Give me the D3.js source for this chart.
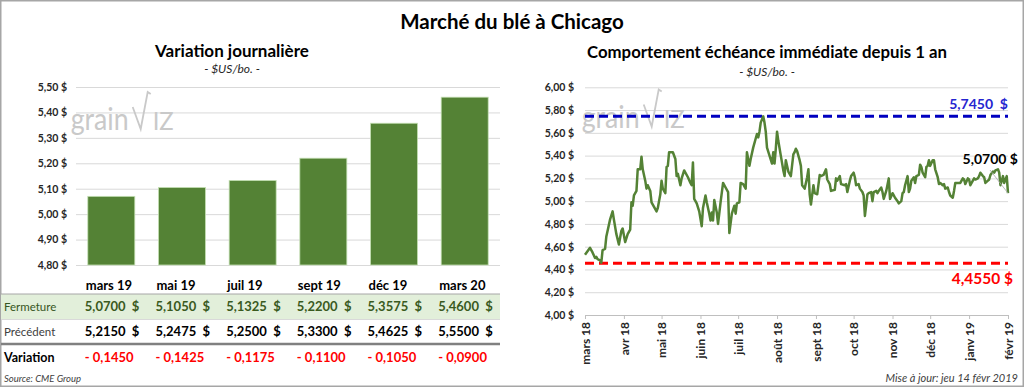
<!DOCTYPE html>
<html>
<head>
<meta charset="utf-8">
<script src="https://cdn.jsdelivr.net/npm/d3@7"></script>
<style>
body { margin: 0; background: #fff; }
svg { display: block; font-family: Lato, "Open Sans", sans-serif; }
</style>
</head>
<body>
<svg width="1024" height="387"></svg>
<script>
// ---- data ----
var contracts = ["mars 19", "mai 19", "juil 19", "sept 19", "déc 19", "mars 20"];
var closing = [5.07, 5.105, 5.1325, 5.22, 5.3575, 5.46];
var previous = [5.215, 5.2475, 5.25, 5.33, 5.4625, 5.55];
var change = [-0.145, -0.1425, -0.1175, -0.11, -0.105, -0.09];
var barTicks = [4.8, 4.9, 5.0, 5.1, 5.2, 5.3, 5.4, 5.5];

var lineTicks = [4.0, 4.2, 4.4, 4.6, 4.8, 5.0, 5.2, 5.4, 5.6, 5.8, 6.0];
var monthTicks = ["2018-03-14", "2018-04-14", "2018-05-14", "2018-06-14", "2018-07-14", "2018-08-14",
  "2018-09-14", "2018-10-14", "2018-11-14", "2018-12-14", "2019-01-14", "2019-02-14"];
var yearHigh = 5.745, yearLow = 4.455;

var priceDates = [
  "2018-03-14","2018-03-18","2018-03-20","2018-03-22","2018-03-23","2018-03-24","2018-03-26","2018-03-27","2018-03-28","2018-03-30",
  "2018-03-31","2018-04-03","2018-04-05","2018-04-06","2018-04-08","2018-04-10","2018-04-12","2018-04-13","2018-04-15","2018-04-17",
  "2018-04-19","2018-04-20","2018-04-21","2018-04-22","2018-04-24","2018-04-25","2018-04-27","2018-04-28","2018-04-29","2018-05-01",
  "2018-05-02","2018-05-03","2018-05-05","2018-05-06","2018-05-09","2018-05-10","2018-05-11","2018-05-13","2018-05-14","2018-05-15",
  "2018-05-17","2018-05-18","2018-05-19","2018-05-20","2018-05-23","2018-05-25","2018-05-26","2018-05-27","2018-05-29","2018-05-30",
  "2018-06-01","2018-06-04","2018-06-06","2018-06-07","2018-06-08","2018-06-09","2018-06-11","2018-06-13","2018-06-15","2018-06-16",
  "2018-06-18","2018-06-19","2018-06-21","2018-06-22","2018-06-23","2018-06-24","2018-06-25","2018-06-27","2018-06-28","2018-06-30",
  "2018-07-02","2018-07-04","2018-07-06","2018-07-07","2018-07-09","2018-07-11","2018-07-12","2018-07-13","2018-07-15","2018-07-16",
  "2018-07-18","2018-07-20","2018-07-21","2018-07-23","2018-07-24","2018-07-26","2018-07-28","2018-07-29","2018-07-30","2018-07-31",
  "2018-08-01","2018-08-03","2018-08-04","2018-08-05","2018-08-06","2018-08-08","2018-08-10","2018-08-11","2018-08-12","2018-08-13",
  "2018-08-14","2018-08-15","2018-08-17","2018-08-19","2018-08-20","2018-08-21","2018-08-23","2018-08-24","2018-08-25","2018-08-27",
  "2018-08-28","2018-08-29","2018-08-30","2018-09-01","2018-09-02","2018-09-03","2018-09-05","2018-09-07","2018-09-08","2018-09-09",
  "2018-09-10","2018-09-12","2018-09-13","2018-09-15","2018-09-17","2018-09-18","2018-09-20","2018-09-22","2018-09-23","2018-09-25",
  "2018-09-26","2018-09-29","2018-09-30","2018-10-01","2018-10-03","2018-10-04","2018-10-07","2018-10-08","2018-10-09","2018-10-11",
  "2018-10-12","2018-10-14","2018-10-15","2018-10-16","2018-10-18","2018-10-19","2018-10-21","2018-10-22","2018-10-23","2018-10-25",
  "2018-10-26","2018-10-28","2018-10-29","2018-10-30","2018-11-01","2018-11-02","2018-11-03","2018-11-05","2018-11-06","2018-11-07",
  "2018-11-09","2018-11-11","2018-11-12","2018-11-14","2018-11-15","2018-11-16","2018-11-18","2018-11-19","2018-11-21","2018-11-22",
  "2018-11-23","2018-11-24","2018-11-26","2018-11-27","2018-11-28","2018-11-29","2018-12-01","2018-12-02","2018-12-03","2018-12-05",
  "2018-12-06","2018-12-07","2018-12-08","2018-12-10","2018-12-11","2018-12-12","2018-12-13","2018-12-14","2018-12-16","2018-12-17",
  "2018-12-18","2018-12-20","2018-12-21","2018-12-22","2018-12-24","2018-12-25","2018-12-26","2018-12-28","2018-12-29","2018-12-30",
  "2019-01-01","2019-01-02","2019-01-03","2019-01-05","2019-01-06","2019-01-07","2019-01-09","2019-01-10","2019-01-11","2019-01-13",
  "2019-01-14","2019-01-15","2019-01-17","2019-01-18","2019-01-19","2019-01-21","2019-01-22","2019-01-23","2019-01-25","2019-01-26",
  "2019-01-27","2019-01-29","2019-01-30","2019-01-31","2019-02-02","2019-02-03","2019-02-04","2019-02-06","2019-02-07","2019-02-08",
  "2019-02-10","2019-02-11","2019-02-12","2019-02-13","2019-02-14"
];
var priceValues = [
  4.53,4.59,4.55,4.50,4.51,4.49,4.48,4.46,4.57,4.58,
  4.69,4.84,4.91,4.84,4.71,4.62,4.74,4.76,4.64,4.71,
  4.75,4.99,4.96,5.05,5.09,5.28,5.28,5.39,5.28,5.18,
  5.11,5.14,5.09,4.99,4.93,4.91,4.94,5.06,5.18,5.11,
  5.07,5.30,5.31,5.43,5.43,5.37,5.22,5.24,5.14,5.20,
  5.27,5.21,5.16,5.14,5.34,5.02,4.98,4.91,4.78,4.94,
  5.05,4.99,4.89,4.83,4.90,4.83,5.01,4.90,4.80,4.99,
  5.16,5.12,5.08,4.72,4.89,4.96,4.89,4.98,4.99,5.16,
  5.15,5.11,5.43,5.31,5.37,5.47,5.55,5.59,5.56,5.61,
  5.69,5.745,5.69,5.61,5.47,5.40,5.33,5.43,5.33,5.46,
  5.61,5.53,5.40,5.27,5.22,5.36,5.26,5.24,5.22,5.41,
  5.43,5.46,5.44,5.36,5.31,5.14,5.11,5.21,5.28,5.06,
  4.97,5.14,5.07,5.06,5.23,5.22,5.23,5.28,5.19,5.15,
  5.09,5.10,5.20,5.18,5.22,5.15,5.14,5.15,5.08,5.18,
  5.22,5.25,5.21,5.14,5.15,5.11,5.08,5.05,4.87,5.06,
  5.07,5.08,5.00,5.08,5.09,5.07,5.09,5.12,5.08,5.02,
  5.09,5.20,5.02,5.07,5.05,5.03,5.00,4.98,5.00,5.07,
  5.08,5.14,5.22,5.08,5.11,5.18,5.21,5.16,5.22,5.23,
  5.32,5.30,5.25,5.21,5.30,5.31,5.36,5.31,5.36,5.36,
  5.28,5.21,5.15,5.16,5.14,5.15,5.11,5.12,5.08,5.05,
  5.03,5.09,5.16,5.16,5.16,5.16,5.20,5.19,5.15,5.20,
  5.19,5.14,5.18,5.20,5.19,5.20,5.22,5.25,5.22,5.21,
  5.16,5.18,5.19,5.23,5.26,5.25,5.27,5.28,5.25,5.14,
  5.22,5.16,5.19,5.22,5.07
];

// ---- setup ----
var svg = d3.select("svg");
var green = "#548235";

var fr = d3.formatLocale({ decimal: ",", thousands: " ", grouping: [3], currency: ["", " $"] });
var f2 = fr.format(".2f"),
  f4 = fr.format(".4f");
var frTime = d3.timeFormatLocale({
  dateTime: "%A %e %B %Y à %X", date: "%d/%m/%Y", time: "%H:%M:%S", periods: ["AM", "PM"],
  days: ["dimanche", "lundi", "mardi", "mercredi", "jeudi", "vendredi", "samedi"],
  shortDays: ["dim", "lun", "mar", "mer", "jeu", "ven", "sam"],
  months: ["janvier", "février", "mars", "avril", "mai", "juin", "juillet", "août", "septembre", "octobre", "novembre", "décembre"],
  shortMonths: ["janv", "févr", "mars", "avr", "mai", "juin", "juil", "août", "sept", "oct", "nov", "déc"]
});
var parse = d3.timeParse("%Y-%m-%d");

// frame
svg.append("rect")
  .attr("x", 0.75).attr("y", 0.75).attr("width", 1022.5).attr("height", 385.5)
  .attr("fill", "none").attr("stroke", "#a6a6a6").attr("stroke-width", 1.5);

svg.append("text")
  .attr("x", 512).attr("y", 29).attr("text-anchor", "middle")
  .style("font-size", "20.5px").style("font-weight", "bold").attr("fill", "#000")
  .text("Marché du blé à Chicago");

function watermark(x, y) {
  var g = svg.append("g").attr("transform", "translate(" + x + "," + y + ")").attr("fill", "#c9c9c9");
  g.append("text").attr("x", 0).attr("y", 0)
    .attr("textLength", 58).attr("lengthAdjust", "spacingAndGlyphs")
    .style("font-size", "31px").style("font-weight", "normal").text("grain");
  g.append("path").attr("d", "M62,-23 L70,-1 L77,-38 L80,-36")
    .attr("fill", "none").attr("stroke", "#c9c9c9").attr("stroke-width", 1.8);
  g.append("text").attr("x", 82).attr("y", 0)
    .attr("textLength", 21).attr("lengthAdjust", "spacingAndGlyphs")
    .style("font-size", "25px").style("font-weight", "normal").text("IZ");
}

// ---- left: bar chart ----
svg.append("text")
  .attr("x", 232).attr("y", 57).attr("text-anchor", "middle")
  .style("font-size", "17px").style("font-weight", "bold").text("Variation journalière");
svg.append("text")
  .attr("x", 232).attr("y", 73).attr("text-anchor", "middle")
  .style("font-size", "12px").style("font-style", "italic").attr("fill", "#262626")
  .text("- $US/bo. -");

var x1 = d3.scaleBand().domain(contracts).range([76, 500]).paddingInner(0.335).paddingOuter(0.167);
var y1 = d3.scaleLinear().domain([4.8, 5.5]).range([265, 87]);

var yAxis1 = svg.append("g")
  .attr("transform", "translate(76,0)")
  .call(d3.axisLeft(y1).tickValues(barTicks).tickSize(-424).tickPadding(9)
    .tickFormat(function (d) { return f2(d) + " $"; }));
yAxis1.select(".domain").remove();
yAxis1.selectAll("line").attr("stroke", "#d9d9d9");
yAxis1.selectAll("text").attr("fill", "#262626").style("font-size", "10.5px").style("font-weight", "bold")
  .style("font-family", "Lato, sans-serif");

watermark(70.7, 130);

svg.append("g")
  .selectAll("rect")
  .data(closing)
  .enter()
  .append("rect")
  .attr("x", function (d, i) { return x1(contracts[i]); })
  .attr("width", x1.bandwidth())
  .attr("y", function (d) { return y1(d); })
  .attr("height", function (d) { return y1(4.8) - y1(d); })
  .attr("fill", green)
  .attr("stroke", "#c5e0b4")
  .attr("stroke-width", 0.8);

// table under bars
svg.append("rect").attr("x", 1).attr("y", 294).attr("width", 499).attr("height", 25).attr("fill", "#e2efda");
svg.append("line").attr("x1", 1).attr("x2", 500).attr("y1", 294).attr("y2", 294).attr("stroke", "#a6a6a6").attr("stroke-width", 1);
svg.append("line").attr("x1", 1).attr("x2", 500).attr("y1", 319.5).attr("y2", 319.5).attr("stroke", "#d9d9d9").attr("stroke-width", 1);
svg.append("line").attr("x1", 1).attr("x2", 500).attr("y1", 344).attr("y2", 344).attr("stroke", "#808080").attr("stroke-width", 2.5);

svg.append("g")
  .selectAll("text")
  .data(contracts)
  .enter()
  .append("text")
  .attr("x", function (d) { return x1(d) - 2; })
  .attr("y", 290)
  .style("font-size", "13px").style("font-weight", "bold")
  .text(function (d) { return d; });

var rows = [
  { label: "Fermeture", y: 311, values: closing, color: "#3a5a1e", labelColor: "#375623", labelWeight: "normal" },
  { label: "Précédent", y: 336, values: previous, color: "#000", labelColor: "#404040", labelWeight: "normal" },
  { label: "Variation", y: 362, values: change, color: "#ff0000", labelColor: "#000", labelWeight: "bold" }
];
rows.forEach(function (r, k) {
  svg.append("text").attr("x", 4).attr("y", r.y)
    .style("font-size", k === 2 ? "12.5px" : "11.5px").style("font-weight", r.labelWeight)
    .attr("fill", r.labelColor).text(r.label);
  svg.append("g")
    .selectAll("text")
    .data(r.values)
    .enter()
    .append("text")
    .attr("x", function (d, i) { return x1(contracts[i]) - 3; })
    .attr("y", r.y)
    .attr("fill", r.color)
    .style("font-size", "13px").style("font-weight", "bold")
    .text(function (d) {
      return k === 2 ? "- " + f4(Math.abs(d)) : f4(d) + "\u00a0\u00a0$";
    });
});

svg.append("text").attr("x", 4).attr("y", 382)
  .style("font-size", "9.5px").style("font-style", "italic").attr("fill", "#404040")
  .text("Source: CME Group");

// ---- right: line chart ----
svg.append("text")
  .attr("x", 767).attr("y", 58).attr("text-anchor", "middle")
  .style("font-size", "16.8px").style("font-weight", "bold").text("Comportement échéance immédiate depuis 1 an");
svg.append("text")
  .attr("x", 767).attr("y", 76).attr("text-anchor", "middle")
  .style("font-size", "12px").style("font-style", "italic").attr("fill", "#262626")
  .text("- $US/bo. -");

var x2 = d3.scaleTime().domain([parse(monthTicks[0]), parse(monthTicks[monthTicks.length - 1])]).range([585, 1008]);
var y2 = d3.scaleLinear().domain([4, 6]).range([315, 87.3]);

var yAxis2 = svg.append("g")
  .attr("transform", "translate(585,0)")
  .call(d3.axisLeft(y2).tickValues(lineTicks).tickSize(-423).tickPadding(11)
    .tickFormat(function (d) { return f2(d) + " $"; }));
yAxis2.select(".domain").remove();
yAxis2.selectAll("line").attr("stroke", "#d9d9d9");
yAxis2.selectAll("text").attr("fill", "#262626").style("font-size", "10.5px").style("font-weight", "bold")
  .style("font-family", "Lato, sans-serif");

var xAxis2 = svg.append("g")
  .attr("transform", "translate(0,315)")
  .call(d3.axisBottom(x2).tickValues(monthTicks.map(parse)).tickSize(4)
    .tickFormat(frTime.format("%b %y")));
xAxis2.select(".domain").attr("stroke", "#bfbfbf");
xAxis2.selectAll("line").attr("stroke", "#bfbfbf");
xAxis2.selectAll("text")
  .attr("transform", "rotate(-90)")
  .attr("x", -7).attr("y", 0).attr("dy", "0.35em")
  .style("text-anchor", "end")
  .attr("fill", "#262626").style("font-size", "12px").style("font-weight", "bold")
  .style("font-family", "Lato, sans-serif");

watermark(581.7, 127.5);

// high / low reference lines
svg.append("line")
  .attr("x1", 585).attr("x2", 1008).attr("y1", y2(yearHigh)).attr("y2", y2(yearHigh))
  .attr("stroke", "#0000c0").attr("stroke-width", 3).attr("stroke-dasharray", "9,5");
svg.append("line")
  .attr("x1", 585).attr("x2", 1008).attr("y1", y2(yearLow)).attr("y2", y2(yearLow))
  .attr("stroke", "#ff0000").attr("stroke-width", 3).attr("stroke-dasharray", "9,5");
svg.append("text")
  .attr("x", 1008).attr("y", y2(yearHigh) - 7).attr("text-anchor", "end")
  .attr("fill", "#2525d0").style("font-size", "14px").style("font-weight", "bold")
  .text(f4(yearHigh) + "\u00a0\u00a0$");
svg.append("text")
  .attr("x", 1013).attr("y", y2(yearLow) + 21).attr("text-anchor", "end")
  .attr("fill", "#ff0000").style("font-size", "15.5px").style("font-weight", "bold")
  .text(f4(yearLow) + " $");

var series = priceDates.map(function (d, i) { return { date: parse(d), value: priceValues[i] }; });
var line = d3.line()
  .x(function (d) { return x2(d.date); })
  .y(function (d) { return y2(d.value); });

svg.append("path")
  .datum(series)
  .attr("d", line)
  .attr("fill", "none")
  .attr("stroke", green)
  .attr("stroke-width", 2.5)
  .attr("stroke-linejoin", "round");

// last value label with leader
var last = series[series.length - 1];
svg.append("line")
  .attr("x1", 990).attr("y1", 170)
  .attr("x2", x2(last.date)).attr("y2", y2(last.value))
  .attr("stroke", "#a6a6a6").attr("stroke-width", 0.8);
svg.append("text")
  .attr("x", 1018).attr("y", 164).attr("text-anchor", "end")
  .attr("fill", "#000").style("font-size", "14px").style("font-weight", "bold")
  .text(f4(last.value) + " $");

svg.append("text").attr("x", 1018).attr("y", 382).attr("text-anchor", "end")
  .style("font-size", "11px").style("font-style", "italic").attr("fill", "#404040")
  .text("Mise à jour: jeu 14 févr 2019");
</script>
</body>
</html>
